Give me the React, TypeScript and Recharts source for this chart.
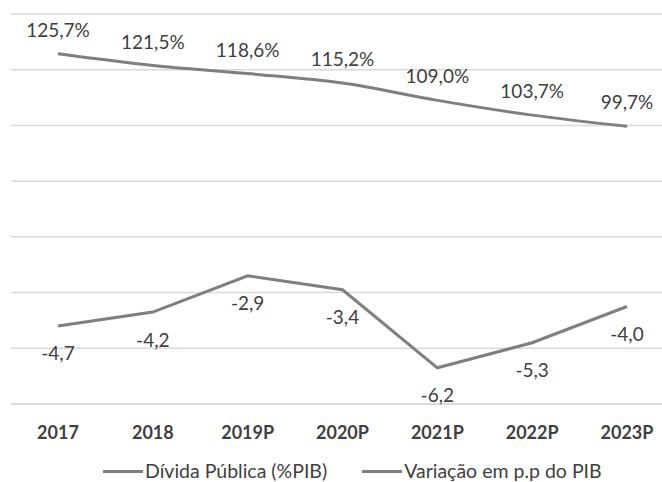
import React from "react";
import { LineChart, Line, XAxis, YAxis, CartesianGrid, LabelList } from "recharts";

// dados
const anos = ["2017", "2018", "2019P", "2020P", "2021P", "2022P", "2023P"];
const dividaPublica = [125.7, 121.5, 118.6, 115.2, 109.0, 103.7, 99.7];
const variacaoPP = [-4.7, -4.2, -2.9, -3.4, -6.2, -5.3, -4.0];
const ticksDivida = [0, 20, 40, 60, 80, 100, 120, 140];

const nomeDivida = "Dívida Pública (%PIB)";
const nomeVariacao = "Variação em p.p do PIB";

const chartData = anos.map((ano, i) => ({
  ano,
  divida: dividaPublica[i],
  variacao: variacaoPP[i],
}));

const CINZA = "#7f7f7f";
const TEXTO = "#404040";
const FONTE = "Lato, 'Open Sans', sans-serif";

const fmt = (v: number, dec: number) => v.toFixed(dec).replace(".", ",");

// ticks invisíveis: o eixo continua a gerar as linhas da grelha
const SemTick = () => <g />;

const App = () => {
  return (
    <div
      style={{
        position: "absolute",
        left: 0,
        top: 0,
        width: 662,
        height: 482,
        overflow: "hidden",
        background: "#fff",
        fontFamily: FONTE,
      }}
    >
      <LineChart
        width={700}
        height={482}
        data={chartData}
        margin={{ top: 14, right: 26, bottom: 0, left: 11 }}
      >
        <CartesianGrid yAxisId="esq" vertical={false} stroke="#d9d9d9" strokeWidth={1.5} />
        <XAxis
          dataKey="ano"
          padding={{ left: 47, right: 47 }}
          height={78}
          tickLine={false}
          axisLine={{ stroke: "#d9d9d9", strokeWidth: 1.5 }}
          tickMargin={16}
          tick={{ fontSize: 18, fontWeight: 700, fill: TEXTO, fontFamily: FONTE }}
          interval={0}
        />
        <YAxis
          yAxisId="esq"
          domain={[0, 140]}
          ticks={ticksDivida}
          interval={0}
          width={0}
          tick={<SemTick />}
          axisLine={false}
          tickLine={false}
        />
        <YAxis
          yAxisId="dir"
          orientation="right"
          domain={[-7.5, 6.5]}
          width={0}
          tick={<SemTick />}
          axisLine={false}
          tickLine={false}
        />
        <Line
          yAxisId="esq"
          type="monotone"
          dataKey="divida"
          name={nomeDivida}
          stroke={CINZA}
          strokeWidth={3}
          dot={false}
          isAnimationActive={false}
        >
          <LabelList
            dataKey="divida"
            position="top"
            offset={17}
            formatter={(v: number) => `${fmt(v, 1)}%`}
            style={{ fontSize: 19, fill: TEXTO, fontFamily: FONTE }}
          />
        </Line>
        <Line
          yAxisId="dir"
          type="linear"
          dataKey="variacao"
          name={nomeVariacao}
          stroke={CINZA}
          strokeWidth={3}
          dot={false}
          isAnimationActive={false}
        >
          <LabelList
            dataKey="variacao"
            position="bottom"
            offset={21}
            formatter={(v: number) => fmt(v, 1)}
            style={{ fontSize: 19, fill: TEXTO, fontFamily: FONTE }}
          />
        </Line>
      </LineChart>
      <div
        style={{
          position: "absolute",
          top: 458,
          left: 103,
          display: "flex",
          alignItems: "center",
          fontSize: 19.5,
          color: TEXTO,
          lineHeight: "26px",
        }}
      >
        {[nomeDivida, nomeVariacao].map((nome, i) => (
          <div key={nome} style={{ display: "flex", alignItems: "center", marginLeft: i ? 35 : 0 }}>
            <span style={{ display: "inline-block", width: 40, height: 3, background: CINZA, marginRight: 2 }} />
            <span>{nome}</span>
          </div>
        ))}
      </div>
    </div>
  );
};

export default App;
